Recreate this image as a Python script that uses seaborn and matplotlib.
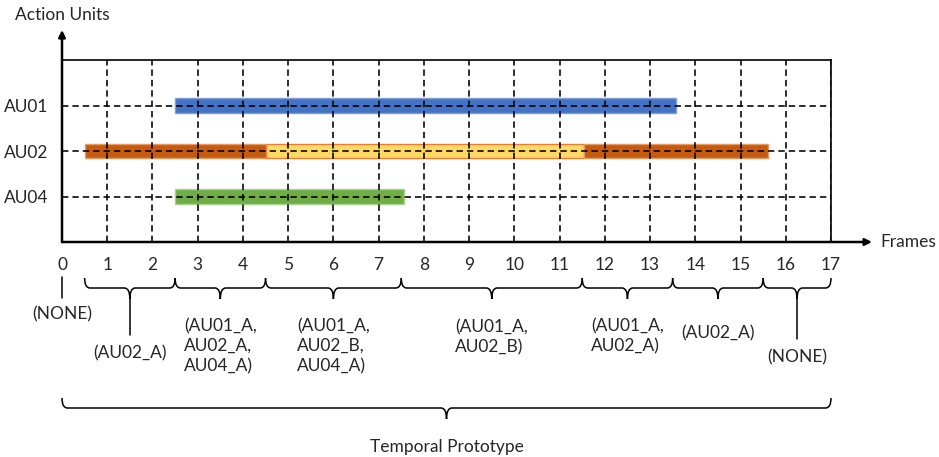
import numpy as np
import pandas as pd
import seaborn as sns
import matplotlib.pyplot as plt
from matplotlib.path import Path
from matplotlib.patches import PathPatch

# action units, top to bottom
units = ['AU01', 'AU02', 'AU04']

# activation intervals (frames) per unit and intensity
bar_unit = ['AU01', 'AU02', 'AU02', 'AU02', 'AU04']
bar_level = ['A', 'A', 'B', 'A', 'A']
bar_start = [2.5, 0.5, 4.5, 11.55, 2.5]
bar_end = [13.57, 4.5, 11.55, 15.6, 7.55]

frames = list(range(0, 18))

# temporal segments and their prototype labels
seg_start = [0.5, 2.5, 4.5, 7.5, 11.5, 13.5, 15.5]
seg_end = [2.5, 4.5, 7.5, 11.5, 13.5, 15.5, 17]
seg_labels = ['(AU02_A)', '(AU01_A,\nAU02_A,\nAU04_A)', '(AU01_A,\nAU02_B,\nAU04_A)',
              '(AU01_A,\nAU02_B)', '(AU01_A,\nAU02_A)', '(AU02_A)', '(NONE)']
first_label = '(NONE)'

df = pd.DataFrame({'unit': bar_unit, 'level': bar_level,
                   'start': bar_start, 'end': bar_end})

sns.set_theme(style='white')
plt.rcParams['font.family'] = ['Lato', 'DejaVu Sans']

colors = {('AU01', 'A'): ('#4472C4', '#7F9FD8'),
          ('AU02', 'A'): ('#C55A11', '#E89A63'),
          ('AU02', 'B'): ('#FFD966', '#ED7D31'),
          ('AU04', 'A'): ('#70AD47', '#A9D18E')}

fig = plt.figure(figsize=(9.39, 4.57), dpi=100)
# axes box in pixels: x 62..831, y 60..242
ax = fig.add_axes([62 / 939, (457 - 242) / 457, (831 - 62) / 939, (242 - 60) / 457])
ax.set_xlim(0, 17)
ax.set_ylim(0, 4)

ypos = {u: len(units) - i for i, u in enumerate(units)}

for _, r in df.iterrows():
    face, edge = colors[(r['unit'], r['level'])]
    ax.barh(ypos[r['unit']], r['end'] - r['start'], left=r['start'], height=0.32,
            color=face, edgecolor=edge, linewidth=1.0, zorder=1)

ax.set_xticks(frames)
ax.set_xticklabels([str(f) for f in frames], fontsize=12.5)
ax.set_yticks([ypos[u] for u in units])
ax.set_yticklabels(units, fontsize=12.5)
ax.tick_params(axis='x', length=0, pad=11)
ax.tick_params(axis='y', length=0, pad=10)
ax.grid(True, color='black', linestyle=(0, (4, 2.5)), linewidth=1.15)
ax.set_axisbelow(False)

ax.spines['left'].set_visible(False)
ax.spines['bottom'].set_visible(False)
for s in ['top', 'right']:
    ax.spines[s].set_color('black')
    ax.spines[s].set_linewidth(1.2)

# axis arrows
arrow = dict(arrowstyle='-|>', color='black', lw=1.8, mutation_scale=10, shrinkA=0, shrinkB=0)
ax.annotate('', xy=(0, (242 - 30) / 182), xytext=(0, 0), xycoords='axes fraction', arrowprops=arrow)
ax.annotate('', xy=((872 - 62) / 769, 0), xytext=(0, 0), xycoords='axes fraction', arrowprops=arrow)
ax.text(0, (242 - 15) / 182, 'Action Units', transform=ax.transAxes, ha='center', va='center', fontsize=12.5)
ax.text((880 - 62) / 769, 0, 'Frames', transform=ax.transAxes, ha='left', va='center', fontsize=12.5)


def py(y):
    # pixel row (from top of figure) -> data y
    return (242 - y) / 45.5


def brace(x0, x1, top, mid, tip, r=0.12):
    xt = (x0 + x1) / 2
    yt, ym, yp = py(top), py(mid), py(tip)
    verts = [(x0, yt), (x0, ym), (x0 + r, ym),
             (xt - r, ym), (xt, ym), (xt, yp),
             (xt, ym), (xt + r, ym),
             (x1 - r, ym), (x1, ym), (x1, yt)]
    codes = [Path.MOVETO, Path.CURVE3, Path.CURVE3,
             Path.LINETO, Path.CURVE3, Path.CURVE3,
             Path.CURVE3, Path.CURVE3,
             Path.LINETO, Path.CURVE3, Path.CURVE3]
    ax.add_patch(PathPatch(Path(verts, codes), fill=False, edgecolor='black',
                           linewidth=1.1, clip_on=False))
    return xt


label_y = [353, 346, 346, 337, 336, 333, 357]
for s, e, lab, ly in zip(seg_start, seg_end, seg_labels, label_y):
    xt = brace(s, e, 278, 288, 299)
    if lab.count('\n') == 0 and ly > 350:
        ax.plot([xt, xt], [py(299), py(ly - 18)], color='black', lw=1.1, clip_on=False)
    ax.text(xt, py(ly), lab, ha='center', va='center', multialignment='left',
            fontsize=12.5, linespacing=1.3)

# frame 0 has no active unit
ax.plot([0, 0], [py(277), py(298)], color='black', lw=1.1, clip_on=False)
ax.text(0, py(314), first_label, ha='center', va='center', fontsize=12.5)

# whole sequence
xt = brace(frames[0], frames[-1], 398, 408, 419)
ax.text(xt, py(447), 'Temporal Prototype', ha='center', va='center', fontsize=12.5)

fig.savefig('out.png', dpi=100)
